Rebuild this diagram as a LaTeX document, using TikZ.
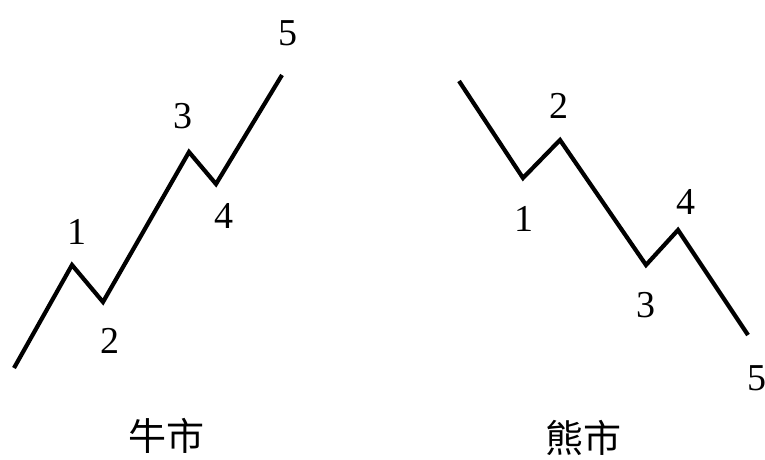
\documentclass[tikz,border=0pt]{standalone}
\usepackage{fontspec}
\setmainfont{Liberation Serif}
\newfontfamily\cjk{Noto Sans CJK SC}
\begin{document}
\begin{tikzpicture}[x=1pt,y=-1pt,
  wave/.style={line width=4.2pt,line join=miter,black},
  num/.style={font=\fontsize{38}{42}\selectfont,inner sep=0pt},
  title/.style={font=\cjk\fontsize{38}{44}\selectfont,inner sep=0pt}]
\useasboundingbox (0,0) rectangle (765,459);
% bull market
\coordinate (a0) at (14,368);
\coordinate (a1) at (72,265);
\coordinate (a2) at (103,302);
\coordinate (a3) at (189,152);
\coordinate (a4) at (216,184);
\coordinate (a5) at (282,75);
\draw[wave] (a0) -- (a1) -- (a2) -- (a3) -- (a4) -- (a5);
\node[num] (l1) at (77,232) {1};
\node[num] (l2) at (110,341) {2};
\node[num] (l3) at (183,116) {3};
\node[num] (l4) at (224,216) {4};
\node[num] (l5) at (288,33) {5};
\node[title] (bull) at (166,436) {牛市};
% bear market
\coordinate (b0) at (459,81);
\coordinate (b1) at (523,178);
\coordinate (b2) at (560,140);
\coordinate (b3) at (646,265);
\coordinate (b4) at (678,230);
\coordinate (b5) at (748,335);
\draw[wave] (b0) -- (b1) -- (b2) -- (b3) -- (b4) -- (b5);
\node[num] (r1) at (524,219) {1};
\node[num] (r2) at (559,106) {2};
\node[num] (r3) at (646,305) {3};
\node[num] (r4) at (686,202) {4};
\node[num] (r5) at (757,378) {5};
\node[title] (bear) at (583,438) {熊市};
\end{tikzpicture}
\end{document}
